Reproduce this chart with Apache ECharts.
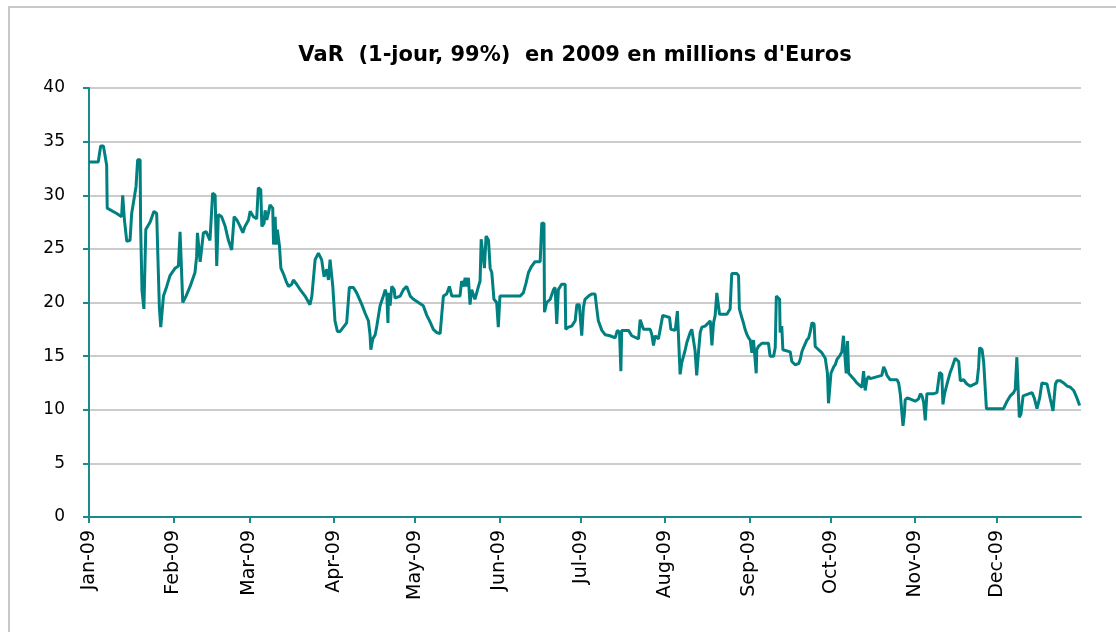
<!DOCTYPE html>
<html>
<head>
<meta charset="utf-8">
<title>VaR 2009</title>
<script src="https://cdn.jsdelivr.net/npm/echarts@6/dist/echarts.min.js"></script>
<style>
  html, body { margin: 0; padding: 0; background: #ffffff; }
  #chart { width: 1116px; height: 632px; }
</style>
</head>
<body>
<div id="chart"></div>
<script>
// jour de l'année (0 = 1er janvier 2009)
const dayOffsets = [
  0, 3.4, 4.3, 5.3, 5.9, 6.5, 6.7, 10.2, 12.0, 12.4, 13.0, 13.9, 15.1, 15.7, 16.6, 17.3, 17.9, 18.8, 19.0, 19.5,
  20.2, 20.9, 22.5, 23.9, 24.9, 25.4, 25.9, 26.4, 27.0, 27.4, 28.6, 29.8, 31.7, 32.9, 33.5, 34.1, 34.5, 35.7, 37.2, 39.0,
  39.6, 39.9, 40.9, 42.1, 43.1, 44.5, 45.5, 46.4, 47.0, 47.6, 48.8, 50.1, 51.3, 52.5, 53.4, 54.4, 55.6, 56.6, 57.4, 58.7,
  59.3, 60.5, 61.7, 62.3, 63.2, 63.6, 64.4, 64.8, 65.4, 66.0, 66.6, 67.6, 67.9, 68.5, 68.8, 69.3, 70.1, 70.6, 71.5, 72.5,
  73.4, 74.6, 75.2, 76.4, 77.7, 79.5, 81.3, 82.0, 83.2, 84.4, 85.6, 86.5, 87.5, 88.1, 88.7, 89.3, 89.7, 90.5, 91.4, 92.4,
  93.6, 94.8, 95.8, 97.3, 98.5, 100.4, 101.6, 102.8, 103.4, 103.7, 104.4, 105.3, 105.9, 107.1, 108.3, 109.0, 109.6, 110.0, 110.2, 110.8,
  111.4, 112.3, 112.6, 114.5, 115.7, 116.9, 118.2, 119.4, 121.2, 123.0, 124.3, 125.5, 126.7, 127.9, 129.2, 129.8, 130.4, 131.6, 132.6, 133.5,
  136.5, 137.1, 137.8, 138.4, 139.0, 139.6, 140.2, 140.8, 142.0, 143.3, 143.9, 144.3, 144.9, 145.5, 146.1, 147.0, 147.6, 148.2, 149.0, 150.0,
  150.6, 151.2, 158.6, 159.8, 160.8, 161.7, 162.9, 164.1, 166.0, 166.6, 167.4, 167.6, 168.4, 169.7, 170.9, 171.5, 172.1, 172.7, 173.9, 175.2,
  175.4, 176.4, 177.6, 178.9, 179.5, 180.4, 181.3, 181.9, 182.5, 183.8, 185.0, 186.2, 186.8, 187.4, 188.7, 189.9, 191.7, 193.6, 194.4, 195.2,
  195.7, 196.0, 198.5, 199.7, 202.2, 202.8, 203.4, 204.0, 206.5, 207.1, 207.7, 208.3, 209.5, 210.1, 211.1, 213.6, 214.1, 215.7, 216.5, 217.1,
  217.5, 218.1, 219.3, 220.0, 221.2, 221.8, 222.4, 223.0, 223.6, 224.3, 224.9, 225.5, 226.7, 227.9, 228.6, 229.2, 229.8, 230.4, 231.0, 231.6,
  232.0, 234.7, 235.9, 236.5, 238.4, 239.0, 239.3, 240.2, 240.8, 241.4, 242.1, 242.7, 243.3, 243.9, 244.5, 245.1, 245.5, 245.7, 246.3, 247.6,
  250.0, 250.6, 251.9, 252.5, 252.9, 254.1, 254.3, 254.9, 255.3, 258.0, 258.6, 259.8, 261.1, 261.7, 262.3, 262.9, 264.1, 264.8, 265.4, 266.0,
  266.8, 267.2, 269.7, 270.9, 271.7, 272.1, 272.7, 273.0, 274.0, 274.6, 275.2, 276.4, 277.0, 277.6, 278.3, 278.6, 279.1, 279.5, 280.1, 281.3,
  282.5, 284.4, 285.0, 285.6, 286.2, 286.8, 287.5, 291.7, 292.4, 293.0, 293.6, 294.8, 297.3, 297.9, 298.5, 299.1, 299.5, 300.0, 300.3, 301.0,
  302.2, 304.0, 305.2, 305.9, 306.5, 307.1, 307.7, 308.3, 310.8, 312.0, 313.0, 313.8, 314.2, 314.8, 315.7, 316.9, 317.5, 318.7, 320.0, 320.6,
  321.8, 323.0, 324.3, 326.7, 327.3, 327.7, 328.6, 329.2, 329.8, 330.2, 336.5, 337.8, 339.0, 340.2, 340.8, 341.4, 342.1, 342.3, 342.9, 343.7,
  347.0, 347.8, 348.8, 349.8, 350.6, 352.5, 353.7, 354.7, 355.2, 355.6, 356.2, 357.4, 358.6, 359.9, 361.1, 362.3, 363.5, 364.5
];

// VaR en millions d'euros
const varValues = [
  33.1, 33.1, 34.6, 34.6, 33.7, 32.8, 28.8, 28.3, 28.0, 30.0, 27.8, 25.7, 25.8, 28.3, 29.7, 30.8, 33.3, 33.3, 27.1, 21.1,
  19.4, 26.8, 27.5, 28.5, 28.3, 23.8, 19.5, 17.7, 17.7, 20.6, 21.5, 22.5, 23.2, 23.4, 26.6, 26.5, 20.0, 20.6, 21.5, 22.8,
  24.3, 26.5, 23.8, 26.5, 26.6, 25.8, 30.2, 30.0, 23.4, 28.2, 28.0, 27.1, 25.8, 24.9, 28.0, 27.7, 27.1, 26.5, 27.1, 27.7,
  28.5, 28.0, 27.8, 30.7, 30.5, 27.1, 27.4, 28.6, 27.7, 28.3, 29.1, 28.8, 25.4, 28.0, 25.4, 26.8, 25.2, 23.2, 22.7, 22.0,
  21.5, 21.7, 22.1, 21.7, 21.2, 20.6, 19.8, 20.6, 24.0, 24.6, 24.0, 22.4, 23.1, 22.1, 24.0, 24.0, 21.5, 18.3, 17.3, 17.3,
  17.7, 18.1, 21.4, 21.4, 20.9, 19.8, 19.0, 18.3, 17.0, 15.6, 16.6, 17.0, 17.8, 19.7, 20.6, 21.2, 20.6, 18.1, 20.9, 19.7,
  21.5, 21.2, 20.4, 20.6, 21.2, 21.5, 20.6, 20.3, 20.0, 19.7, 18.8, 18.2, 17.5, 17.2, 17.1, 18.9, 20.6, 20.8, 21.5, 20.6,
  20.6, 22.0, 21.5, 22.3, 21.5, 22.3, 19.8, 21.2, 20.3, 21.5, 22.0, 25.9, 25.8, 23.2, 26.2, 25.8, 23.2, 22.8, 20.3, 20.0,
  17.7, 20.6, 20.6, 20.9, 21.8, 22.8, 23.4, 23.8, 23.8, 27.4, 27.4, 19.1, 20.0, 20.3, 21.2, 21.4, 18.0, 21.2, 21.7, 21.7,
  17.5, 17.7, 17.8, 18.3, 19.8, 19.8, 16.9, 19.5, 20.3, 20.6, 20.8, 20.8, 19.5, 18.3, 17.4, 17.0, 16.9, 16.7, 17.4, 17.2,
  13.6, 17.4, 17.4, 16.9, 16.6, 18.4, 18.3, 17.5, 17.5, 17.0, 16.0, 16.9, 16.6, 17.4, 18.8, 18.6, 17.5, 17.4, 19.2, 19.2,
  13.3, 14.4, 15.5, 16.3, 17.2, 17.5, 17.5, 15.5, 13.2, 15.5, 17.2, 17.7, 17.8, 18.1, 18.3, 16.0, 18.1, 18.8, 20.9, 20.8,
  18.9, 18.9, 19.4, 22.7, 22.7, 22.5, 19.4, 18.6, 18.1, 17.5, 17.0, 16.7, 16.5, 15.3, 16.5, 16.4, 13.4, 15.6, 15.9, 16.2,
  16.2, 15.0, 15.0, 15.8, 20.6, 20.3, 17.2, 17.8, 15.6, 15.4, 14.5, 14.2, 14.3, 14.7, 15.4, 15.8, 16.5, 16.7, 17.3, 18.1,
  18.0, 15.9, 15.3, 14.8, 13.4, 10.6, 10.7, 13.4, 14.0, 14.2, 14.7, 15.1, 15.4, 16.9, 17.0, 13.4, 16.4, 13.4, 13.4, 12.9,
  12.5, 12.1, 13.6, 11.8, 12.8, 13.1, 12.9, 13.2, 14.0, 13.7, 13.2, 12.8, 12.8, 12.5, 11.5, 11.4, 8.5, 9.6, 10.9, 11.1,
  11.0, 10.8, 11.0, 11.5, 11.3, 10.7, 9.0, 11.5, 11.5, 11.6, 13.5, 13.3, 10.5, 11.5, 12.4, 13.5, 13.9, 14.8, 14.5, 12.7,
  12.8, 12.4, 12.2, 12.5, 13.9, 15.8, 15.6, 14.4, 14.5, 10.1, 10.1, 10.8, 11.3, 11.6, 11.9, 14.9, 14.9, 9.3, 9.6, 11.3,
  11.6, 11.1, 10.1, 11.1, 12.5, 12.4, 11.0, 9.9, 9.9, 12.4, 12.7, 12.7, 12.5, 12.2, 12.1, 11.8, 11.1, 10.4
];

// début de chaque mois (jour de l'année) et libellés
const monthStarts = [0, 31, 59, 90, 120, 151, 181, 212, 243, 273, 304, 334];
const monthLabels = ["Jan-09", "Feb-09", "Mar-09", "Apr-09", "May-09", "Jun-09",
  "Jul-09", "Aug-09", "Sep-09", "Oct-09", "Nov-09", "Dec-09"];
const yTicks = [0, 5, 10, 15, 20, 25, 30, 35, 40];

const myChart = echarts.init(document.getElementById("chart"));
const seriesData = dayOffsets.map((d, i) => [d, varValues[i]]);

const option = {
  animation: false,
  backgroundColor: "#ffffff",
  title: {
    text: "VaR  (1-jour, 99%)  en 2009 en millions d'Euros",
    left: 570,
    textAlign: "center",
    top: 40,
    textStyle: {
      fontFamily: "DejaVu Sans",
      fontWeight: "bold",
      fontSize: 21,
      color: "#000000"
    }
  },
  graphic: [
    {
      // cadre du graphique
      type: "rect",
      shape: { x: 9, y: 7, width: 1200, height: 700 },
      style: { fill: null, stroke: "#c8c8c8", lineWidth: 2 },
      silent: true
    }
  ],
  grid: {
    left: 89,
    right: 35,
    top: 88,
    bottom: 115
  },
  xAxis: {
    type: "value",
    min: 0,
    max: 365,
    axisLine: {
      lineStyle: { color: "#1a8a8a", width: 2 }
    },
    axisTick: {
      show: true,
      length: 6,
      customValues: monthStarts,
      lineStyle: { color: "#1a8a8a", width: 2 }
    },
    axisLabel: {
      customValues: monthStarts,
      rotate: 90,
      margin: 13,
      fontFamily: "DejaVu Sans",
      fontSize: 19,
      color: "#000000",
      formatter: function (v) {
        const i = monthStarts.indexOf(Math.round(v));
        return i >= 0 ? monthLabels[i] : "";
      }
    },
    splitLine: { show: false }
  },
  yAxis: {
    type: "value",
    min: yTicks[0],
    max: yTicks[yTicks.length - 1],
    interval: 5,
    axisLine: {
      show: true,
      lineStyle: { color: "#1a8a8a", width: 2 }
    },
    axisTick: {
      show: true,
      length: 6,
      lineStyle: { color: "#1a8a8a", width: 2 }
    },
    axisLabel: {
      margin: 24,
      fontFamily: "DejaVu Sans",
      fontSize: 17,
      color: "#000000"
    },
    splitLine: {
      lineStyle: { color: "#cccccc", width: 2 }
    }
  },
  series: [
    {
      type: "line",
      data: seriesData,
      showSymbol: false,
      lineStyle: { color: "#008080", width: 3 },
      itemStyle: { color: "#008080" }
    }
  ]
};
myChart.setOption(option);
</script>
</body>
</html>
